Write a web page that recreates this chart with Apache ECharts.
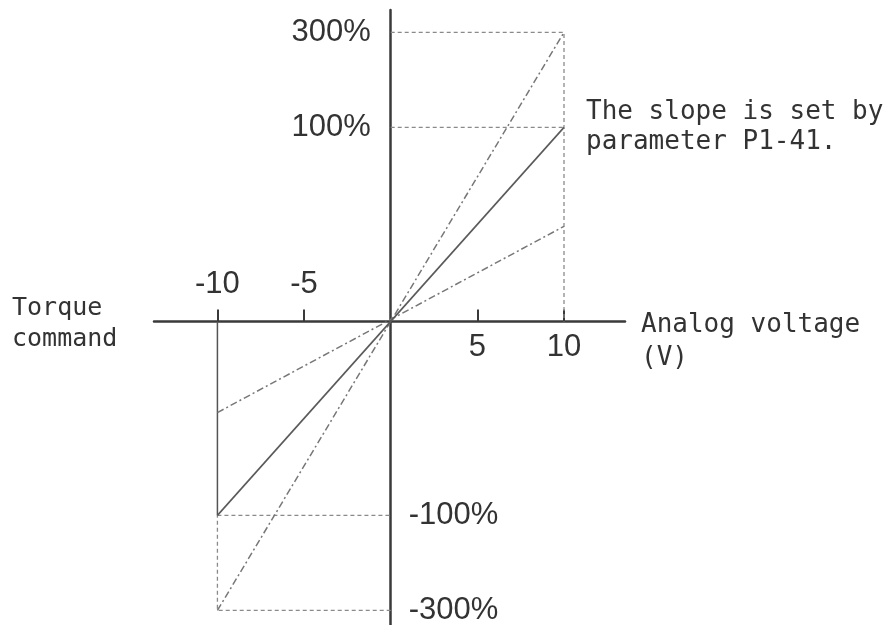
<!DOCTYPE html>
<html>
<head>
<meta charset="utf-8">
<script src="https://cdn.jsdelivr.net/npm/echarts@6/dist/echarts.min.js"></script>
<style>html,body{margin:0;padding:0;background:#fff}#c{width:891px;height:625px}</style>
</head>
<body>
<div id="c"></div>
<script>
// ---- data ----
const voltageEnds = [-10, 10];              // analog voltage (V) at line ends
const ratedTorque = [-100, 100];            // solid line (%)
const maxTorque = [-300, 300];              // steep dash-dot line (%)
const lowTorque = [-47, 49];                // shallow dash-dot line (%)
const xTickValues = [-10, -5, 5, 10];
const xTopLabels = [-10, -5];
const xBottomLabels = [5, 10];
const yTickPercents = [300, 100, -100, -300];
const yTickLabels = ['300%', '100%', '-100%', '-300%'];

// The diagram compresses the torque axis beyond +/-100 %.
const BEYOND = 0.245;
function toAxis(p) {
  const a = Math.abs(p);
  const v = a <= 100 ? a : 100 + (a - 100) * BEYOND;
  return p < 0 ? -v : v;
}
function pairs(xs, ys) { return xs.map((x, i) => [x, toAxis(ys[i])]); }
function yLabel(v) {
  let best = 0, d = Infinity;
  yTickPercents.forEach((p, i) => { const dd = Math.abs(toAxis(p) - v); if (dd < d) { d = dd; best = i; } });
  return yTickLabels[best];
}

// layout
const W = 891, H = 625;
const G = { left: 154, right: 266, top: 10, bottom: 0 };
const X_MIN = -13.66, X_MAX = 13.52, Y_MIN = -156.5, Y_MAX = 160.5;
const gw = W - G.left - G.right, gh = H - G.top - G.bottom;
const zeroX = G.left + (0 - X_MIN) / (X_MAX - X_MIN) * gw;
const zeroY = G.top + (Y_MAX - 0) / (Y_MAX - Y_MIN) * gh;

const axisColor = '#3a3a3a';
const textColor = '#333';
const guideStyle = { color: '#8a8a8a', width: 1.3, type: [4, 3] };
const dashDot = [7, 3, 2, 3];

const vMax = voltageEnds[1], vMin = voltageEnds[0];
const guides = [
  [[0, toAxis(maxTorque[1])], [vMax, toAxis(maxTorque[1])], [vMax, 0]],
  [[0, toAxis(ratedTorque[1])], [vMax, toAxis(ratedTorque[1])]],
  [[0, toAxis(maxTorque[0])], [vMin, toAxis(maxTorque[0])], [vMin, toAxis(ratedTorque[0])]],
  [[vMin, toAxis(ratedTorque[0])], [0, toAxis(ratedTorque[0])]]
];

const series = guides.map(g => ({
  type: 'line', data: g, symbol: 'none', silent: true, animation: false,
  lineStyle: guideStyle
}));
series.push({
  type: 'line', data: [[vMin, 0], [vMin, toAxis(ratedTorque[0])]], symbol: 'none', animation: false,
  lineStyle: { color: '#555', width: 1.5 }
});
series.push({
  name: 'max', type: 'line', data: pairs(voltageEnds, maxTorque), symbol: 'none', animation: false,
  lineStyle: { color: '#777', width: 1.5, type: dashDot }
});
series.push({
  name: 'low', type: 'line', data: pairs(voltageEnds, lowTorque), symbol: 'none', animation: false,
  lineStyle: { color: '#777', width: 1.5, type: dashDot }
});
series.push({
  name: 'rated', type: 'line', data: pairs(voltageEnds, ratedTorque), symbol: 'none', animation: false,
  lineStyle: { color: '#5a5a5a', width: 1.6 }
});

const tickFont = { fontFamily: 'Liberation Sans', fontSize: 31, color: textColor };
const mono = 'DejaVu Sans Mono';

const chart = echarts.init(document.getElementById('c'), null, { renderer: 'canvas' });
chart.setOption({
  animation: false,
  backgroundColor: '#fff',
  grid: { left: G.left, right: G.right, top: G.top, bottom: G.bottom, containLabel: false, outerBoundsMode: 'none' },
  xAxis: [
    {
      type: 'value', position: 'bottom', min: X_MIN, max: X_MAX, offset: -(G.top + gh - zeroY),
      axisLine: { show: true, onZero: false, lineStyle: { color: axisColor, width: 2.5 } },
      axisTick: { show: true, inside: true, length: 12, customValues: xTickValues, lineStyle: { color: axisColor, width: 2 } },
      axisLabel: Object.assign({ customValues: xBottomLabels, margin: 11 }, tickFont),
      splitLine: { show: false }
    },
    {
      type: 'value', position: 'top', min: X_MIN, max: X_MAX, offset: -(zeroY - G.top),
      axisLine: { show: false, onZero: false },
      axisTick: { show: false },
      axisLabel: Object.assign({ customValues: xTopLabels, margin: 21 }, tickFont),
      splitLine: { show: false }
    }
  ],
  yAxis: [
    {
      type: 'value', position: 'left', min: Y_MIN, max: Y_MAX, offset: -(zeroX - G.left),
      axisLine: { show: true, onZero: false, lineStyle: { color: axisColor, width: 2.5 } },
      axisTick: { show: false },
      axisLabel: Object.assign({ customValues: [toAxis(yTickPercents[0]), toAxis(yTickPercents[1])], margin: 20, formatter: yLabel }, tickFont),
      splitLine: { show: false }
    },
    {
      type: 'value', position: 'right', min: Y_MIN, max: Y_MAX, offset: -(G.left + gw - zeroX),
      axisLine: { show: false, onZero: false },
      axisTick: { show: false },
      axisLabel: Object.assign({ customValues: [toAxis(yTickPercents[2]), toAxis(yTickPercents[3])], margin: 18, formatter: yLabel }, tickFont),
      splitLine: { show: false }
    }
  ],
  graphic: [
    { type: 'text', left: 12, top: 293, style: { text: 'Torque\ncommand', font: '25px "' + mono + '"', fill: textColor, lineHeight: 31 } },
    { type: 'text', left: 641, top: 309, style: { text: 'Analog voltage\n(V)', font: '26px "' + mono + '"', fill: textColor, lineHeight: 33 } },
    { type: 'text', left: 586, top: 97, style: { text: 'The slope is set by\nparameter P1-41.', font: '26px "' + mono + '"', fill: textColor, lineHeight: 30 } }
  ],
  series: series
});
</script>
</body>
</html>
